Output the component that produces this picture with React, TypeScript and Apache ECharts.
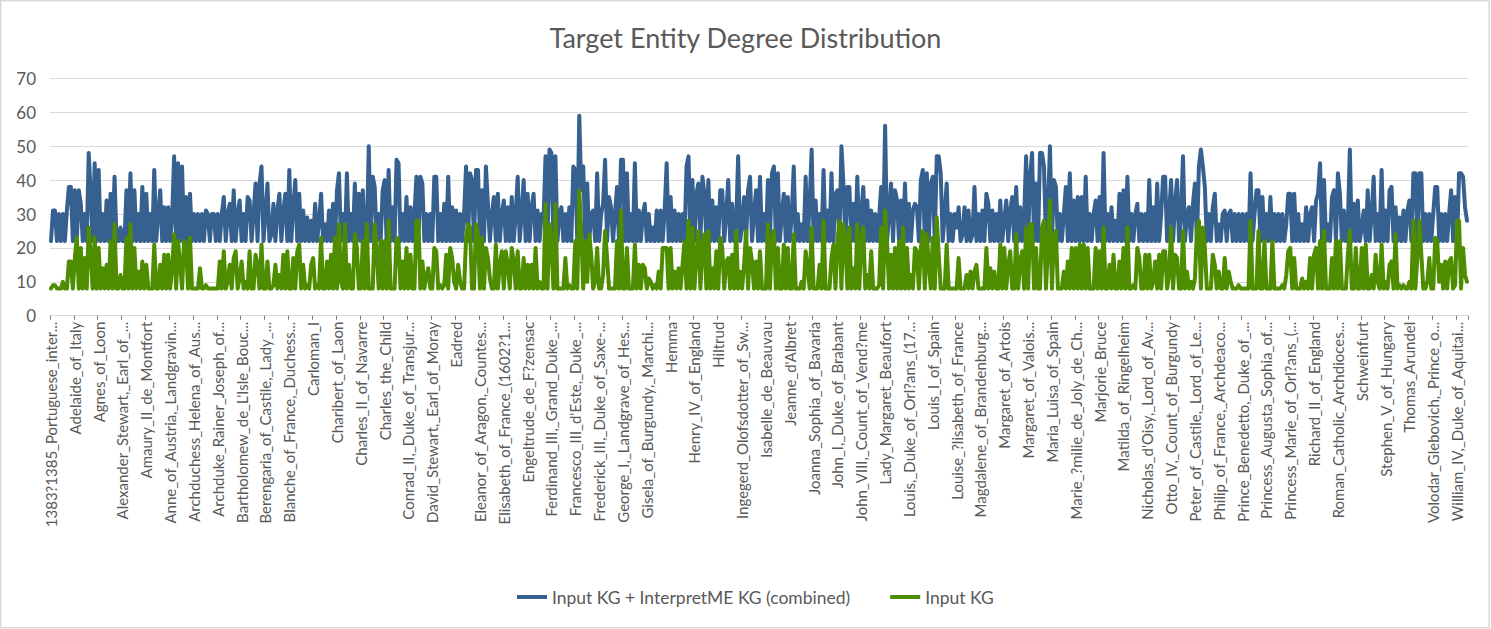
import React, { useEffect, useRef } from 'react';
import * as echarts from 'echarts';

const chartTitle = 'Target Entity Degree Distribution';
const seriesNames = ['Input KG + InterpretME KG (combined)', 'Input KG'];

// one label is printed every 12 entities
const entityLabels = [
  '1383?1385_Portuguese_inter...', 'Adelaide_of_Italy', 'Agnes_of_Loon', 'Alexander_Stewart,_Earl_of_...',
  'Amaury_II_de_Montfort', 'Anne_of_Austria,_Landgravin...', 'Archduchess_Helena_of_Aus...', 'Archduke_Rainer_Joseph_of...',
  "Bartholomew_de_L'Isle_Bouc...", 'Berengaria_of_Castile,_Lady_...', 'Blanche_of_France,_Duchess...', 'Carloman_I',
  'Charibert_of_Laon', 'Charles_II_of_Navarre', 'Charles_the_Child', 'Conrad_II,_Duke_of_Transjur...',
  'David_Stewart,_Earl_of_Moray', 'Eadred', 'Eleanor_of_Aragon,_Countes...', 'Elisabeth_of_France_(1602?1...',
  'Engeltrude_de_F?zensac', 'Ferdinand_III,_Grand_Duke_...', "Francesco_III_d'Este,_Duke_...", 'Frederick_III,_Duke_of_Saxe-...',
  'George_I,_Landgrave_of_Hes...', 'Gisela_of_Burgundy,_Marchi...', 'Hemma', 'Henry_IV_of_England',
  'Hiltrud', 'Ingegerd_Olofsdotter_of_Sw...', 'Isabelle_de_Beauvau', "Jeanne_d'Albret",
  'Joanna_Sophia_of_Bavaria', 'John_I,_Duke_of_Brabant', 'John_VIII,_Count_of_Vend?me', 'Lady_Margaret_Beaufort',
  'Louis,_Duke_of_Orl?ans_(17...', 'Louis_I_of_Spain', 'Louise_?lisabeth_of_France', 'Magdalene_of_Brandenburg...',
  'Margaret_of_Artois', 'Margaret_of_Valois...', 'Maria_Luisa_of_Spain', 'Marie_?milie_de_Joly_de_Ch...',
  'Marjorie_Bruce', 'Matilda_of_Ringelheim', "Nicholas_d'Oisy,_Lord_of_Av...", 'Otto_IV,_Count_of_Burgundy',
  'Peter_of_Castile,_Lord_of_Le...', 'Philip_of_France,_Archdeaco...', 'Prince_Benedetto,_Duke_of_...', 'Princess_Augusta_Sophia_of...',
  'Princess_Marie_of_Orl?ans_(...', 'Richard_II_of_England', 'Roman_Catholic_Archdioces...', 'Schweinfurt',
  'Stephen_V_of_Hungary', 'Thomas_Arundel', 'Volodar_Glebovich,_Prince_o...', 'William_IV,_Duke_of_Aquitai...',
];
const labelEvery = 12;

const combinedDegree = [
  22,31,31,22,30,22,30,22,31,38,38,22,37,22,37,33,22,30,22,48,36,22,45,22,43,22,30,22,34,22,36,22,41,22,22,26,22,22,37,22,42,22,37,22,30,22,38,22,36,22,30,22,43,22,30,37,22,32,22,
  32,22,29,47,22,45,22,44,22,35,22,36,22,30,22,30,22,30,22,31,30,22,30,30,22,30,22,30,35,22,30,33,22,37,22,30,34,22,30,22,35,34,22,30,39,22,39,44,22,30,39,22,24,33,22,31,36,22,31,36,22,43,22,
  32,40,22,36,22,31,22,29,22,28,22,33,22,28,36,22,27,22,31,22,33,22,37,42,22,30,22,42,22,30,22,39,22,36,22,37,22,22,50,22,41,38,22,30,22,37,40,22,43,22,32,22,46,45,22,30,22,35,22,32,22,30,41,
  22,41,39,22,30,22,30,22,41,41,22,30,22,33,22,41,22,32,22,31,22,30,22,30,44,22,42,40,22,43,43,22,37,22,44,33,22,30,35,22,36,22,30,34,22,32,22,35,22,30,41,22,30,40,22,36,22,32,36,22,31,22,30,
  28,47,22,49,48,22,47,22,30,32,22,30,22,32,22,44,43,22,59,37,44,22,39,22,30,31,22,42,22,30,33,46,22,35,32,22,30,38,22,46,46,22,42,22,30,22,45,22,31,22,30,33,22,30,22,26,22,31,22,31,22,31,
  45,22,35,22,31,22,30,22,30,22,44,47,22,40,22,36,39,22,41,36,22,40,22,34,22,32,22,37,37,22,30,40,22,33,22,27,47,22,27,35,22,37,41,22,30,37,22,41,22,30,22,40,22,42,44,22,42,22,30,36,22,35,22,
  30,44,22,30,22,27,22,41,22,33,49,22,34,22,30,22,43,22,31,22,42,22,36,37,22,50,39,22,38,38,22,33,22,41,22,30,38,22,34,22,31,22,30,22,29,38,22,56,22,30,39,22,37,34,22,34,22,39,22,33,22,31,33,
  32,22,40,43,22,42,22,39,41,22,47,47,42,22,30,39,22,30,22,30,26,32,22,24,32,22,31,22,24,38,22,30,22,31,22,36,33,22,31,22,30,22,34,22,28,34,22,31,35,22,38,22,32,22,29,47,22,41,48,22,39,22,
  48,48,44,22,31,50,22,40,38,22,30,22,30,38,22,42,22,34,22,35,22,35,22,41,22,30,22,30,34,22,35,22,48,22,30,22,32,22,28,22,36,22,37,22,41,22,30,22,30,33,22,30,22,30,22,40,22,32,22,39,22,30,41,
  41,22,30,40,22,33,40,22,30,47,22,30,32,22,33,39,22,44,49,44,38,22,30,22,32,36,22,27,22,30,31,22,30,31,22,30,22,30,22,30,22,30,22,42,22,30,37,37,22,35,22,30,22,35,22,30,22,30,22,30,22,27,36,
  36,22,36,22,30,22,27,22,32,22,30,32,22,34,36,45,22,40,22,27,22,35,37,22,42,36,22,31,22,27,49,22,33,22,34,22,26,31,22,37,22,30,41,22,30,22,43,22,31,22,37,38,22,32,22,29,22,31,22,31,34,22,
  42,42,22,42,42,22,30,22,30,22,30,38,38,22,30,22,30,22,30,37,22,35,22,42,42,41,32,28,
];

const inputDegree = [
  8,9,9,8,8,8,10,8,8,16,16,8,17,23,8,20,8,17,8,26,18,8,23,8,20,8,14,8,15,8,22,8,27,8,8,12,8,8,23,8,27,8,20,8,13,8,16,8,15,8,8,8,21,8,8,15,8,18,8,
  18,8,14,24,8,22,15,8,22,21,8,23,8,8,8,8,14,8,8,9,8,8,8,8,8,8,16,8,19,8,10,15,8,17,19,8,11,16,8,10,8,19,8,8,18,15,8,21,8,8,16,8,8,9,15,8,12,8,18,8,19,8,8,
  17,8,19,21,8,15,8,9,8,15,17,8,9,8,23,8,8,16,8,18,8,23,8,27,10,8,27,8,15,8,8,24,20,8,8,22,8,27,8,8,8,27,19,8,22,8,22,8,28,8,8,8,23,22,8,16,8,20,8,18,8,8,28,
  28,8,16,8,12,14,8,8,20,19,8,9,8,9,18,8,20,17,10,8,15,10,8,8,23,27,26,8,8,27,24,8,23,8,20,17,11,8,8,21,8,15,19,8,19,15,8,20,16,8,19,8,8,17,8,15,8,15,8,20,8,10,8,
  8,33,8,27,22,8,33,8,8,8,8,17,8,9,8,8,22,8,37,25,8,22,10,24,18,8,10,20,8,8,12,25,17,8,8,8,8,22,8,31,8,8,20,8,8,8,21,8,15,8,15,14,8,11,10,8,9,8,13,8,20,20,
  20,8,20,8,13,8,14,8,15,22,8,28,8,26,8,18,25,8,20,24,8,25,8,14,8,19,8,23,20,8,16,17,8,18,8,25,8,13,8,15,25,8,20,16,8,16,8,19,8,8,8,27,8,22,25,8,20,8,8,21,8,20,8,
  8,24,8,8,8,10,8,19,14,8,26,8,8,8,15,8,28,8,8,8,17,21,8,22,28,8,27,22,8,26,8,14,8,27,8,22,26,8,12,8,19,8,8,8,9,26,8,31,21,8,18,8,20,8,22,8,26,8,20,8,12,8,20,
  19,8,20,25,8,24,15,8,23,8,29,18,8,8,8,21,8,8,8,8,8,17,8,8,8,12,8,13,8,13,15,8,8,8,8,20,8,14,8,13,8,8,21,8,20,8,15,19,8,8,24,8,16,19,8,26,8,27,27,8,20,8,
  8,26,28,8,20,34,8,23,25,8,8,8,13,8,16,8,20,8,20,8,21,8,21,8,20,8,8,8,20,8,19,8,26,8,8,15,8,18,8,8,16,8,20,8,26,8,8,9,8,20,17,8,8,18,8,18,8,10,16,8,18,8,19,
  19,8,12,26,8,18,17,8,8,25,8,13,8,10,8,11,25,28,8,26,20,8,8,8,18,15,8,13,8,8,17,8,13,10,8,8,8,9,8,8,8,8,8,28,8,8,8,25,8,8,22,8,8,8,22,8,8,8,8,9,8,12,19,
  20,8,17,8,8,8,11,8,10,8,17,8,18,20,8,22,8,25,8,8,8,17,8,22,8,22,8,8,8,18,25,8,8,20,8,8,20,8,21,8,8,12,8,18,10,8,21,8,10,8,15,16,8,24,8,9,8,9,8,8,10,8,
  28,8,17,28,18,8,8,10,17,8,8,23,22,10,15,8,16,8,16,17,8,9,28,28,8,20,12,10,
];

const FONT = 'Lato, "Open Sans", sans-serif';
const TEXT = '#595959';
const BLUE = '#36608f';
const GREEN = '#4e8c00';

export default function App() {
  const ref = useRef<HTMLDivElement>(null);
  useEffect(() => {
    if (!ref.current) return;
    const chart = echarts.init(ref.current, null, { renderer: 'svg' });
    const categories = combinedDegree.map((_, i) => String(i));
    chart.setOption({
      animation: false,
      backgroundColor: '#ffffff',
      title: {
        text: chartTitle,
        left: 'center',
        top: 19,
        textStyle: { fontFamily: FONT, fontSize: 27, fontWeight: 'normal', color: TEXT },
      },
      legend: {
        top: 583,
        left: 512,
        icon: 'rect',
        itemWidth: 30,
        itemHeight: 4,
        itemGap: 40,
        textStyle: { fontFamily: FONT, fontSize: 17.5, color: TEXT },
        data: seriesNames,
      },
      grid: { left: 50, right: 23, top: 78.4, bottom: 313.3, containLabel: false },
      xAxis: {
        type: 'category',
        data: categories,
        boundaryGap: true,
        axisLine: { lineStyle: { color: '#d9d9d9', width: 1 } },
        axisTick: { show: true, interval: labelEvery - 1, length: 4, lineStyle: { color: '#808080' } },
        axisLabel: {
          interval: labelEvery - 1,
          rotate: 90,
          margin: 6,
          fontFamily: FONT,
          fontSize: 15,
          color: TEXT,
          formatter: (_v: string, idx: number) => entityLabels[Math.floor(idx / labelEvery)] ?? '',
        },
        splitLine: { show: false },
      },
      yAxis: {
        type: 'value',
        min: 0,
        max: 70,
        interval: 10,
        axisLine: { show: false },
        axisTick: { show: false },
        axisLabel: { fontFamily: FONT, fontSize: 17, color: TEXT, margin: 14 },
        splitLine: { lineStyle: { color: '#d9d9d9', width: 1 } },
      },
      graphic: [
        {
          type: 'rect',
          shape: { x: 0.75, y: 0.75, width: 1488.5, height: 627 },
          style: { fill: 'none', stroke: '#d9d9d9', lineWidth: 1.5 },
          silent: true,
        },
      ],
      series: [
        {
          name: seriesNames[0],
          type: 'line',
          data: combinedDegree,
          symbol: 'none',
          color: BLUE,
          lineStyle: { width: 4, color: BLUE, join: 'round', cap: 'round' },
        },
        {
          name: seriesNames[1],
          type: 'line',
          data: inputDegree,
          symbol: 'none',
          color: GREEN,
          lineStyle: { width: 4, color: GREEN, join: 'round', cap: 'round' },
        },
      ],
    });
    return () => chart.dispose();
  }, []);
  return <div ref={ref} style={{ position: 'absolute', left: 0, top: 0, width: 1491, height: 629 }} />;
}
